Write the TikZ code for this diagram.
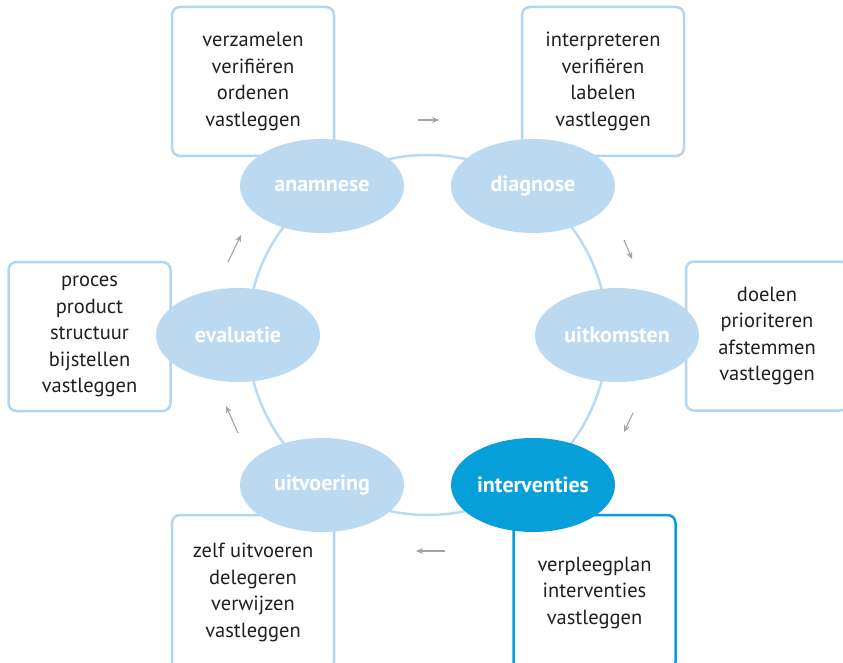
\documentclass[tikz,border=0pt]{standalone}
\usepackage{fontspec}
\setmainfont{PT Sans}
\usetikzlibrary{shapes.geometric,arrows.meta}
\definecolor{lblue}{HTML}{BBDAF1}
\definecolor{bline}{HTML}{B3D5F0}
\definecolor{dblue}{HTML}{079FDA}
\definecolor{txt}{HTML}{231F20}
\definecolor{arr}{HTML}{A3A3A3}
\tikzset{
  x=1pt,y=-1pt,
  stage/.style={ellipse,fill=lblue,minimum width=164pt,minimum height=94pt,inner sep=0pt,
    text=white,font=\fontsize{22}{24}\selectfont\bfseries},
  infobox/.style={draw=bline,line width=2.5pt,rounded corners=8pt,fill=white,
    minimum width=162pt,minimum height=149pt,inner sep=0pt,align=center,text=txt,
    font=\fontsize{20.5}{26.5}\selectfont},
  flowarrow/.style={draw=arr,line width=1.1pt,-{Stealth[length=7pt,width=6pt]}},
  ring/.style={draw=lblue,line width=2.5pt}
}
\begin{document}
\begin{tikzpicture}
\useasboundingbox (0,0) rectangle (843,663);
\clip (0,0) rectangle (843,663);
\draw[ring] (427.5,335) circle[radius=180];
% boxes
\node[infobox] (b1) at (253,81.5) {verzamelen\\verifiëren\\ordenen\\vastleggen};
\node[infobox] (b2) at (603,81.5) {interpreteren\\verifiëren\\labelen\\vastleggen};
\node[infobox] (b3) at (767,336) {doelen\\prioriteren\\afstemmen\\vastleggen};
\node[infobox,draw=dblue,minimum height=155pt] (b4) at (594.5,592.5) {verpleegplan\\interventies\\vastleggen};
\node[infobox,minimum height=155pt] (b5) at (253,592.5) {zelf uitvoeren\\delegeren\\verwijzen\\vastleggen};
\node[infobox] (b6) at (89.5,336.5) {proces\\product\\structuur\\bijstellen\\vastleggen};
% stages
\node[stage] (s1) at (322,186) {anamnese};
\node[stage] (s2) at (533,186) {diagnose};
\node[stage] (s3) at (617,335) {uitkomsten};
\node[stage,fill=dblue] (s4) at (533,485) {interventies};
\node[stage] (s5) at (322,485) {uitvoering};
\node[stage] (s6) at (238,335) {evaluatie};
% arrows
\coordinate (a1s) at (418,120); \coordinate (a1e) at (439,120);
\coordinate (a2s) at (624,240); \coordinate (a2e) at (632,259);
\coordinate (a3s) at (633,413); \coordinate (a3e) at (624,432);
\coordinate (a4s) at (445,551); \coordinate (a4e) at (416,551);
\coordinate (a5s) at (238,433); \coordinate (a5e) at (226,406);
\coordinate (a6s) at (228,262); \coordinate (a6e) at (241,235);
\draw[flowarrow] (a1s) -- (a1e);
\draw[flowarrow] (a2s) -- (a2e);
\draw[flowarrow] (a3s) -- (a3e);
\draw[flowarrow] (a4s) -- (a4e);
\draw[flowarrow] (a5s) -- (a5e);
\draw[flowarrow] (a6s) -- (a6e);
\end{tikzpicture}
\end{document}
